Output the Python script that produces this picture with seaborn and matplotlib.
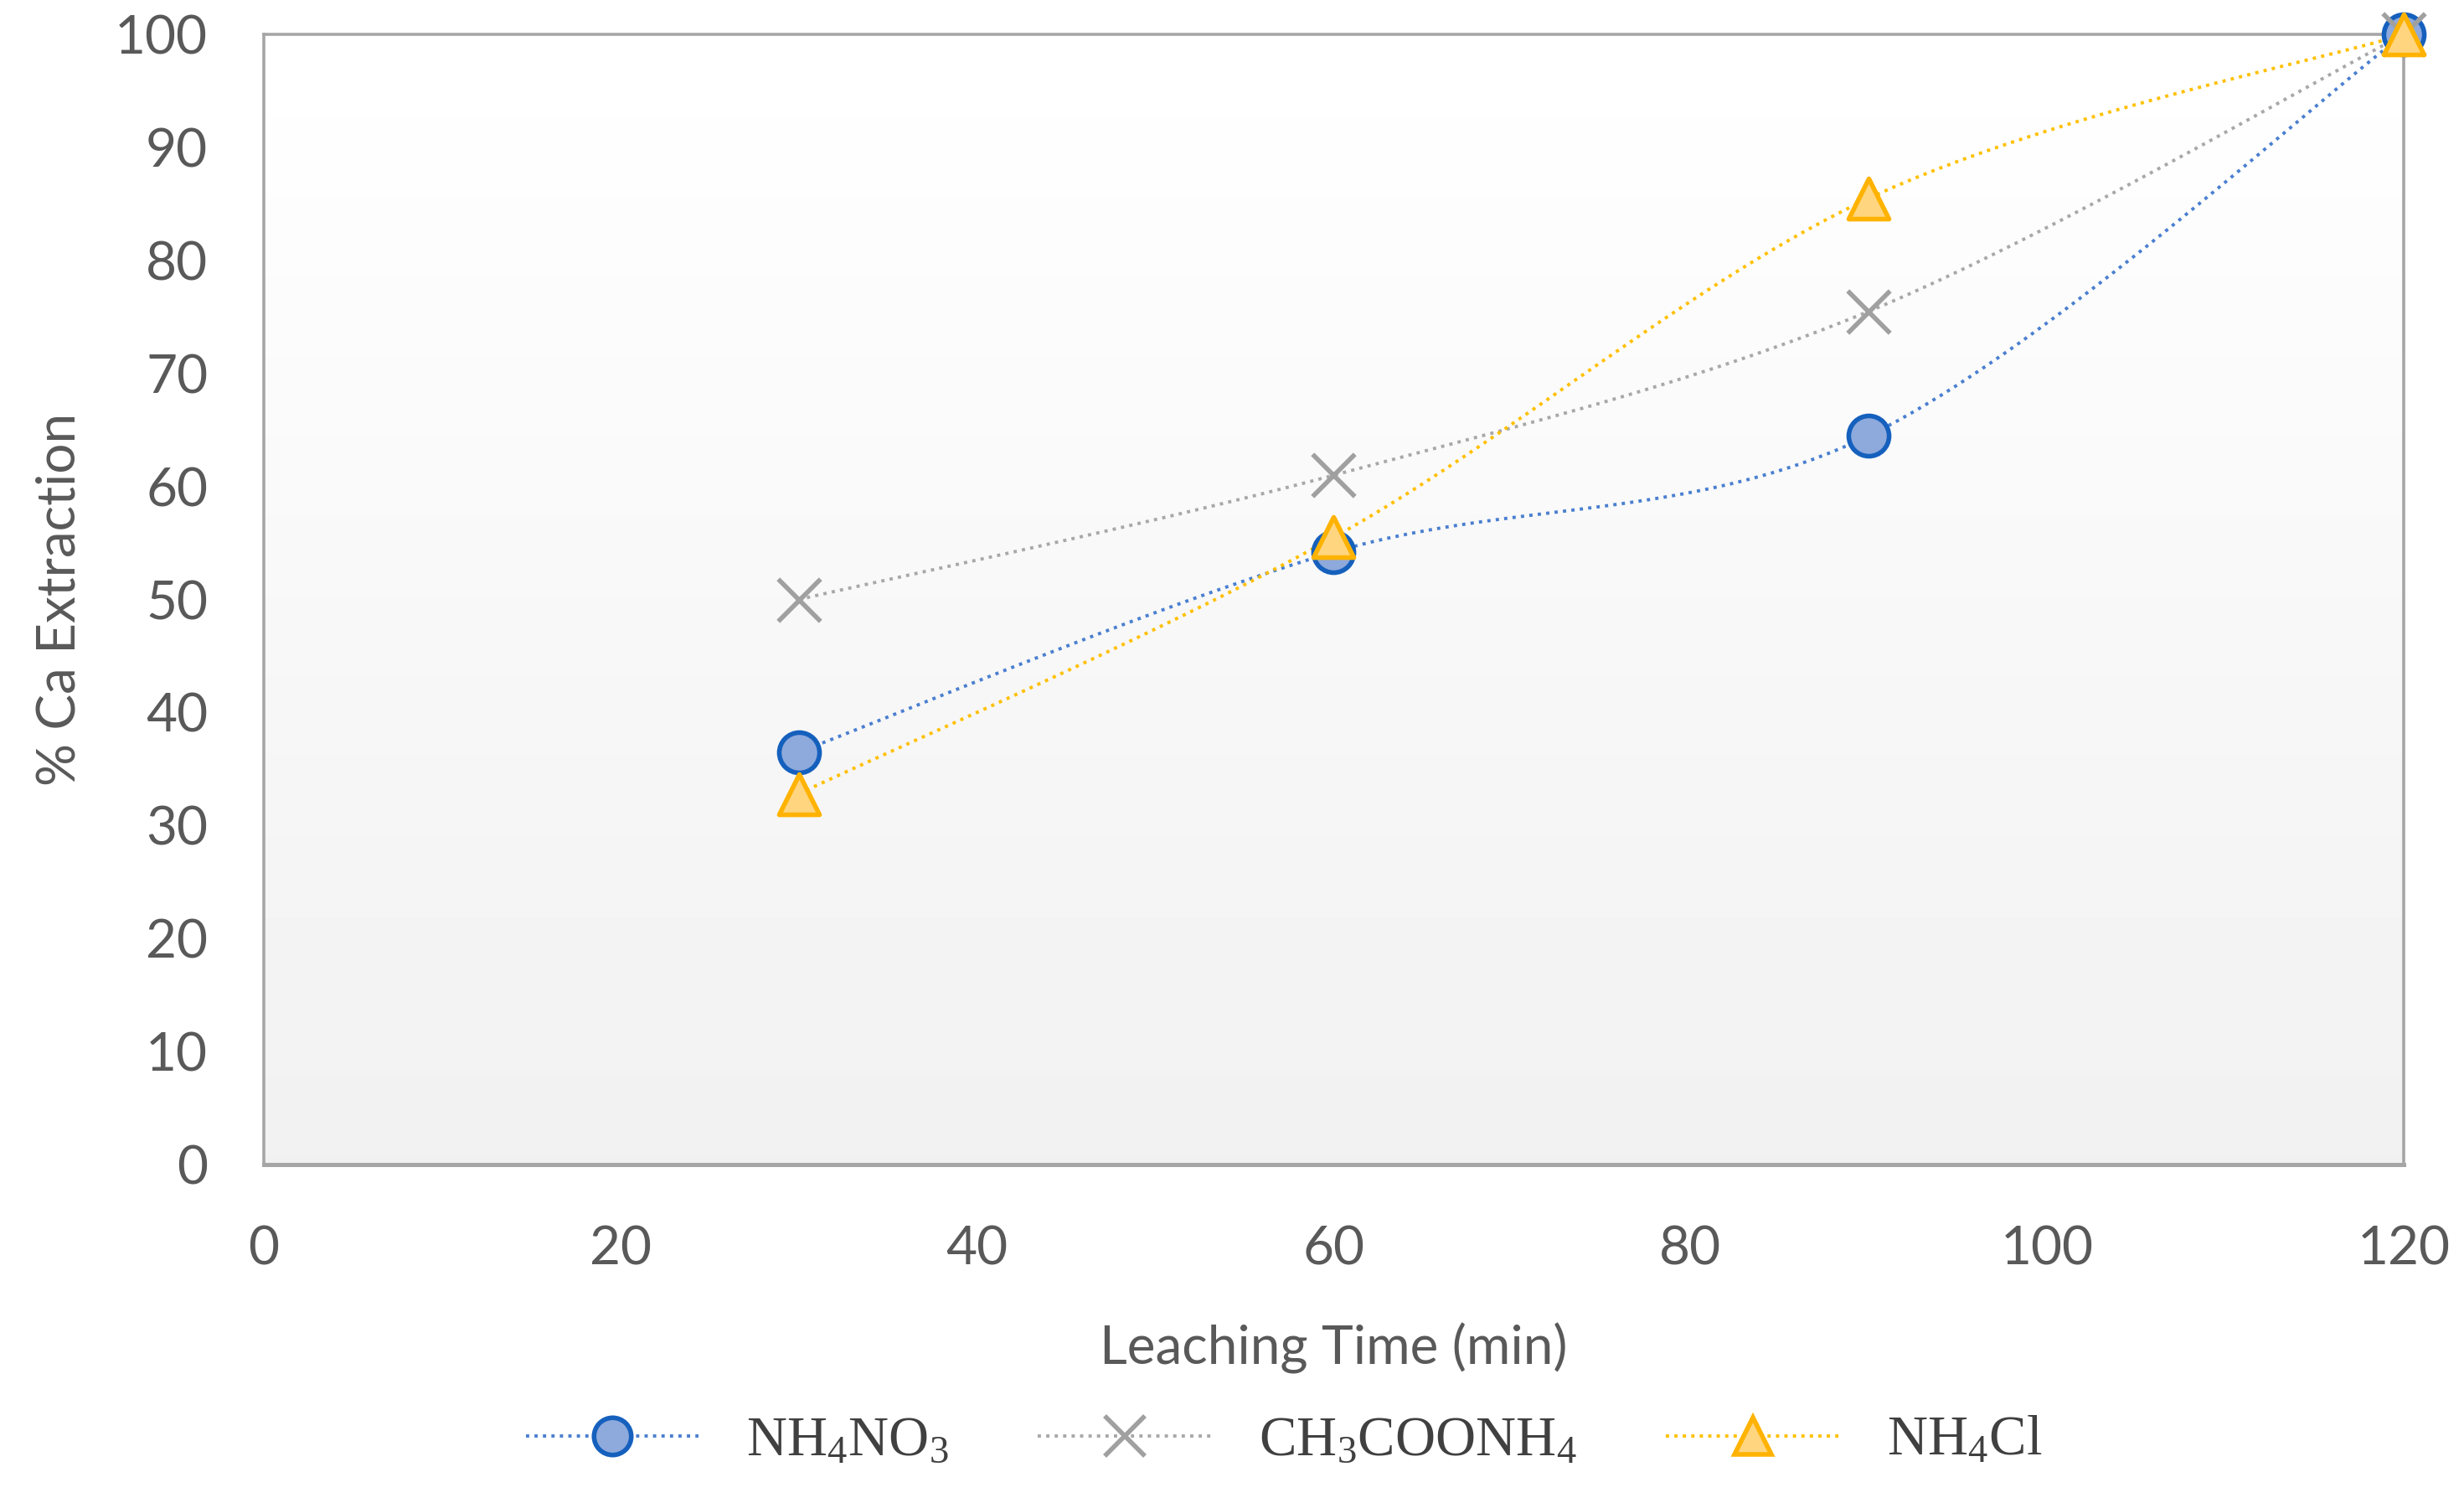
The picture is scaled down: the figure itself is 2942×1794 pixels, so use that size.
import numpy as np
import pandas as pd
import matplotlib
matplotlib.use("Agg")
import matplotlib.pyplot as plt
import seaborn as sns
from matplotlib.lines import Line2D

# === DATA
time_min = [30, 60, 90, 120]
nh4no3 = [36.5, 54.2, 64.5, 100.0]
ch3coonh4 = [50.0, 61.0, 75.5, 100.0]
nh4cl = [32.8, 55.5, 85.5, 100.0]

labels = [r"NH$_{\mathrm{4}}$NO$_{\mathrm{3}}$",
          r"CH$_{\mathrm{3}}$COONH$_{\mathrm{4}}$",
          r"NH$_{\mathrm{4}}$Cl"]
x_ticks = [0, 20, 40, 60, 80, 100, 120]
y_ticks = [0, 10, 20, 30, 40, 50, 60, 70, 80, 90, 100]

# === STYLE
sns.set_theme(style="white")
plt.rcParams["font.family"] = ["Lato", "DejaVu Sans"]
plt.rcParams["mathtext.fontset"] = "custom"
plt.rcParams["mathtext.rm"] = "Liberation Serif"
plt.rcParams["mathtext.it"] = "Liberation Serif:italic"

series = [
    # values, line colour, marker, face, edge
    (nh4no3, "#4A7FD0", "o", "#8EA9DB", "#1560BD"),
    (ch3coonh4, "#A8A8A8", "X", "none", "#A0A0A0"),
    (nh4cl, "#FFC000", "^", "#FFD580", "#FFB300"),
]


def smooth(xs, ys, n=40):
    # excel-like smoothed line (catmull-rom through the points)
    xs = np.asarray(xs, float)
    ys = np.asarray(ys, float)
    px = np.concatenate([[xs[0]], xs, [xs[-1]]])
    py = np.concatenate([[ys[0]], ys, [ys[-1]]])
    out_x, out_y = [], []
    t = np.linspace(0, 1, n)
    for i in range(1, len(px) - 2):
        p0, p1, p2, p3 = [np.array([px[k], py[k]]) for k in (i - 1, i, i + 1, i + 2)]
        c1 = p1 + (p2 - p0) / 6.0
        c2 = p2 - (p3 - p1) / 6.0
        b = ((1 - t) ** 3)[:, None] * p1 + (3 * (1 - t) ** 2 * t)[:, None] * c1 \
            + (3 * (1 - t) * t ** 2)[:, None] * c2 + (t ** 3)[:, None] * p2
        out_x.extend(b[:, 0])
        out_y.extend(b[:, 1])
    return out_x, out_y


fig, ax = plt.subplots(figsize=(14.71, 8.97), dpi=200)
fig.subplots_adjust(left=0.107, right=0.9755, top=0.977, bottom=0.2252)

# gradient background of the plot area
grad = np.linspace(1.0, 0.945, 256).reshape(-1, 1)
ax.imshow(grad, cmap="gray", vmin=0, vmax=1, aspect="auto",
          extent=[0, 1, 0, 1], transform=ax.transAxes, zorder=0)

handles = []
for (vals, lc, mk, fc, ec), lab in zip(series, labels):
    cx, cy = smooth(time_min, vals)
    df_line = pd.DataFrame({"x": cx, "y": cy})
    sns.lineplot(data=df_line, x="x", y="y", ax=ax, sort=False, estimator=None,
                 color=lc, linewidth=1.4, zorder=2)
    ax.lines[-1].set_linestyle((0, (1, 1.6)))
    ax.lines[-1].set_dash_capstyle("butt")
    ax.lines[-1].set_clip_on(False)

    df_pts = pd.DataFrame({"x": time_min, "y": vals})
    if mk == "X":
        sns.scatterplot(data=df_pts, x="x", y="y", ax=ax, marker="x", s=330,
                        color=ec, linewidth=2.0, zorder=3, clip_on=False)
        handles.append(Line2D([], [], color=lc, linewidth=1.4, linestyle=(0, (1, 1.6)),
                              marker="x", markersize=17, markeredgecolor=ec,
                              markeredgewidth=2.0))
    else:
        sns.scatterplot(data=df_pts, x="x", y="y", ax=ax, marker=mk, s=300,
                        color=fc, edgecolor=ec, linewidth=2.0, zorder=3, clip_on=False)
        handles.append(Line2D([], [], color=lc, linewidth=1.4, linestyle=(0, (1, 1.6)),
                              marker=mk, markersize=16, markerfacecolor=fc,
                              markeredgecolor=ec, markeredgewidth=2.0))

ax.set_xlim(0, 120)
ax.set_ylim(0, 100)
ax.set_xticks(x_ticks)
ax.set_yticks(y_ticks)
ax.tick_params(axis="both", length=0, labelsize=23, colors="#595959")
ax.tick_params(axis="x", pad=26)
ax.tick_params(axis="y", pad=24)

for sp in ax.spines.values():
    sp.set_color("#A6A6A6")
    sp.set_linewidth(1.3)
    sp.set_visible(True)
ax.spines["bottom"].set_linewidth(1.8)

ax.set_xlabel("Leaching Time (min)", fontsize=23, color="#595959")
ax.set_ylabel("% Ca Extraction", fontsize=23, color="#595959")
ax.xaxis.set_label_coords(0.5, -0.14)
ax.yaxis.set_label_coords(-0.084, 0.5)

leg = fig.legend(handles, labels, loc="center", bbox_to_anchor=(0.521, 0.041),
                 ncol=3, frameon=False, handlelength=3.1, handletextpad=0.85,
                 columnspacing=1.6, prop={"family": "Liberation Serif", "size": 24})
for t in leg.get_texts():
    t.set_color("#404040")

fig.savefig("out.png", dpi=200)
